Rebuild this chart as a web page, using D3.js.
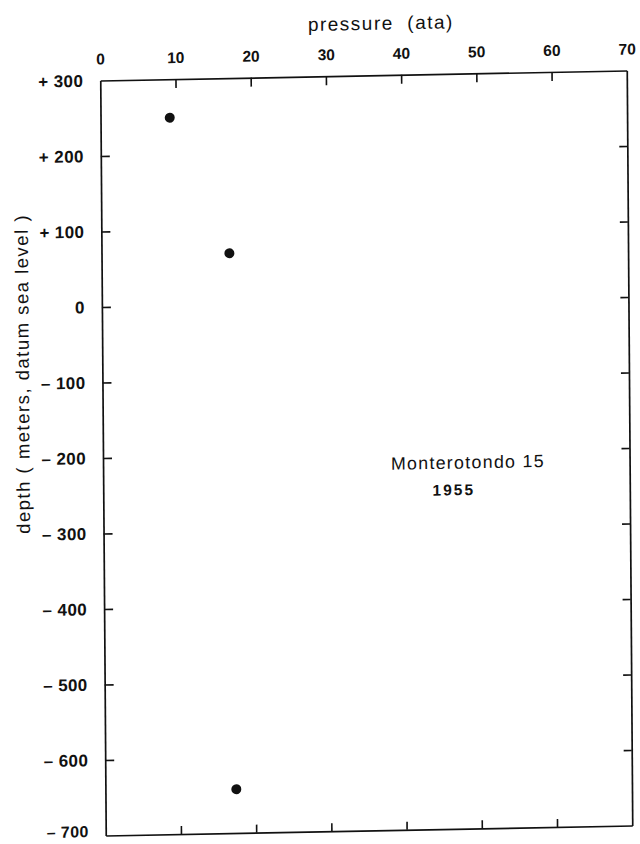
<!DOCTYPE html>
<html><head><meta charset="utf-8">
<script src="https://cdn.jsdelivr.net/npm/d3@7"></script>
<style>
body{margin:0;background:#fff}
svg{display:block}
text{font-family:"Liberation Sans",Arial,Helvetica,sans-serif;fill:#111;white-space:pre}
</style>
</head><body><svg id="c" width="640" height="844"></svg>
<script>
// ---- data ----
const pressureTicks = [0, 10, 20, 30, 40, 50, 60, 70];
const pressureTickLabels = ["0", "10", "20", "30", "40", "50", "60", "70"];
const depthTicks = [300, 200, 100, 0, -100, -200, -300, -400, -500, -600, -700];
const depthTickLabels = ["+ 300", "+ 200", "+ 100", "0", "– 100", "– 200", "– 300", "– 400", "– 500", "– 600", "– 700"];
const pointPressure = [9.2, 17.0, 17.4];
const pointDepth = [249, 68, -642];
const annotationLines = ["Monterotondo 15", "1955"];
const annotationPressure = [48.5, 46.6];
const annotationDepth = [-215, -251];
const xTitle = "pressure  (ata)";
const yTitle = "depth ( meters, datum sea level )";

// ---- layout ----
const W = 526.5, H = 755;
const svg = d3.select("#c");
const g = svg.append("g").attr("transform", "matrix(1,-0.019,0.00728,1,100.25,80.5)");

const x = d3.scaleLinear().domain([0, 70]).range([0, W]);
const y = d3.scaleLinear().domain([300, -700]).range([0, H]);

const innerX = pressureTicks.slice(1, -1);
const innerY = depthTicks.slice(1, -1);

function styleAxis(sel, fs, ls) {
  sel.selectAll(".domain").attr("stroke", "#111").attr("stroke-width", 1.7);
  sel.selectAll(".tick line").attr("stroke", "#111").attr("stroke-width", 1.6);
  sel.selectAll(".tick text").attr("fill", "#111").attr("font-size", fs).attr("font-weight", "bold")
     .attr("letter-spacing", ls)
     .attr("font-family", "'Liberation Sans',Arial,sans-serif");
}

const axTop = g.append("g").call(
  d3.axisTop(x).tickValues(pressureTicks)
    .tickFormat((d, i) => pressureTickLabels[i])
    .tickSize(-9).tickSizeOuter(0).tickPadding(16));
styleAxis(axTop, 15.5, 0);
axTop.selectAll(".tick").filter(d => d === 0 || d === 70).select("line").remove();

const axLeft = g.append("g").call(
  d3.axisLeft(y).tickValues(depthTicks)
    .tickFormat((d, i) => depthTickLabels[i])
    .tickSize(-9).tickSizeOuter(0).tickPadding(17));
styleAxis(axLeft, 17, 0.4);
axLeft.selectAll(".tick").filter(d => d === 300 || d === -700).select("line").remove();
axLeft.selectAll(".tick").filter(d => d === -700).select("text")
  .attr("dy", "0.05em").attr("font-size", 16);

const axBottom = g.append("g").attr("transform", `translate(0,${H})`).call(
  d3.axisBottom(x).tickValues(innerX).tickFormat("").tickSize(-8).tickSizeOuter(0));
styleAxis(axBottom, 15, 0);

const axRight = g.append("g").attr("transform", `translate(${W},0)`).call(
  d3.axisRight(y).tickValues(innerY).tickFormat("").tickSize(-8).tickSizeOuter(0));
styleAxis(axRight, 15, 0);

// points
g.append("g").selectAll("circle")
  .data(pointPressure.map((p, i) => ({p, d: pointDepth[i]})))
  .join("circle")
  .attr("cx", d => x(d.p)).attr("cy", d => y(d.d)).attr("r", 5).attr("fill", "#111");

// annotation
g.append("g").selectAll("text")
  .data(annotationLines)
  .join("text")
  .attr("x", (d, i) => x(annotationPressure[i]))
  .attr("y", (d, i) => y(annotationDepth[i]))
  .attr("text-anchor", "middle").attr("dominant-baseline", "central")
  .attr("font-size", (d, i) => i === 0 ? 17.8 : 15.5)
  .attr("font-weight", (d, i) => i === 0 ? "normal" : "bold")
  .attr("letter-spacing", (d, i) => i === 0 ? 1.3 : 2)
  .text(d => d);

// titles
g.append("text")
  .attr("x", 281).attr("y", -52)
  .attr("text-anchor", "middle").attr("dominant-baseline", "central")
  .attr("font-size", 19).attr("letter-spacing", 1.5)
  .text(xTitle);

g.append("text")
  .attr("transform", "translate(-80,292) rotate(-90)")
  .attr("text-anchor", "middle").attr("dominant-baseline", "central")
  .attr("font-size", 18.5).attr("letter-spacing", 1.5)
  .text(yTitle);
</script>
</body></html>
